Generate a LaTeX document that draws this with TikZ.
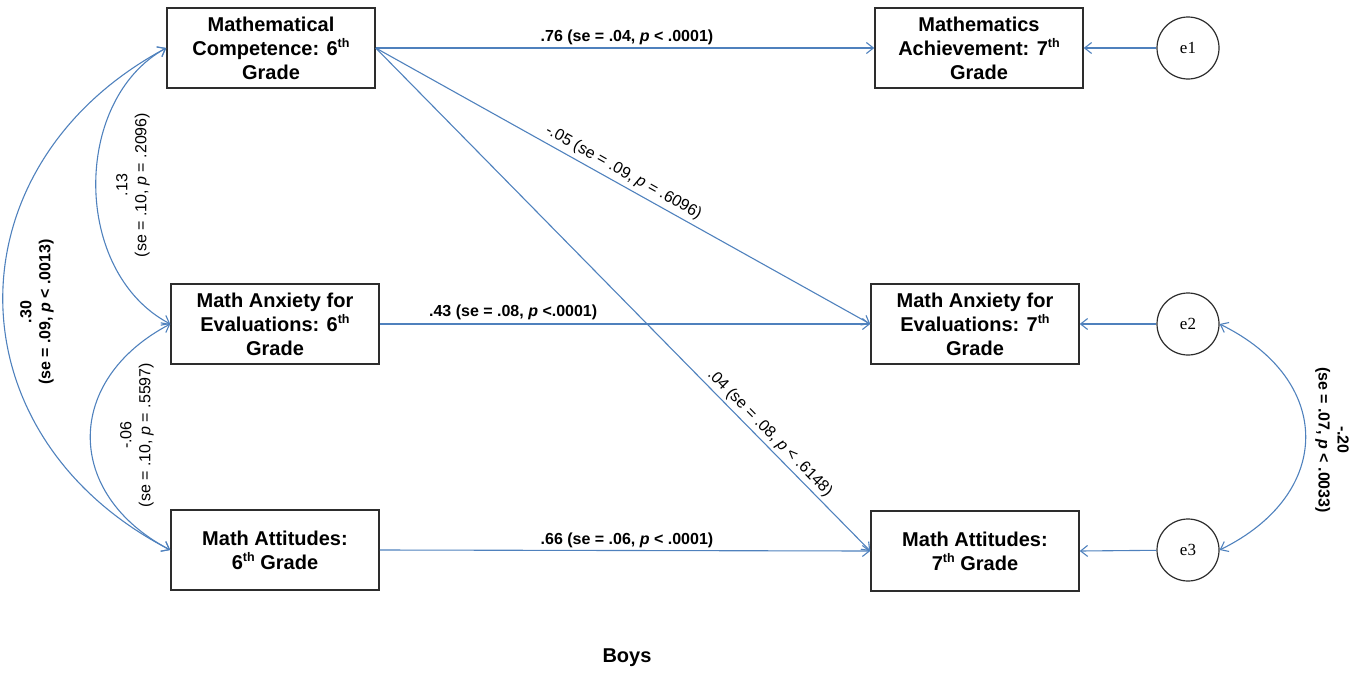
\documentclass[tikz,border=0pt]{standalone}
\usepackage{fontspec}
\setmainfont{Liberation Sans}
\newfontfamily\efont{Liberation Serif}
\usetikzlibrary{arrows.meta}
\definecolor{lnblue}{RGB}{79,129,189}
\definecolor{boxgray}{RGB}{45,45,45}
\newcommand\supth{\raisebox{0.75ex}{\fontsize{12.5}{12.5}\selectfont th}}
\begin{document}
\begin{tikzpicture}[x=1pt,y=-1pt,
  box/.style={draw=boxgray, line width=1.5pt, minimum width=208pt, minimum height=80pt, inner sep=0pt, align=center, font=\fontsize{20}{24}\selectfont\bfseries},
  errc/.style={draw=boxgray, circle, line width=1.2pt, minimum size=62pt, inner sep=0pt, font=\efont\fontsize{17}{20}\selectfont},
  conn/.style={draw=lnblue, line width=1.1pt, -{Straight Barb[length=7pt,width=11pt]}},
  corr/.style={draw=lnblue, line width=1.1pt, {Straight Barb[length=7pt,width=11pt]}-{Straight Barb[length=7pt,width=11pt]}},
  elbl/.style={inner sep=1pt, font=\fontsize{16}{19}\selectfont},
  belbl/.style={inner sep=1pt, font=\fontsize{16}{19}\selectfont\bfseries, align=center},
  rlbl/.style={inner sep=1pt, font=\fontsize{16}{19}\selectfont, align=center}]
\useasboundingbox (0,0) rectangle (1363,675);

\node[box] (mc6) at (271,48) {Mathematical\\Competence: 6\supth\\Grade};
\node[box] (ma7) at (979,48) {Mathematics\\Achievement: 7\supth\\Grade};
\node[box] (mae6) at (275,324) {Math Anxiety for\\Evaluations: 6\supth\\Grade};
\node[box] (mae7) at (975,324) {Math Anxiety for\\Evaluations: 7\supth\\Grade};
\node[box] (mat6) at (275,550) {Math Attitudes:\\6\supth{} Grade};
\node[box] (mat7) at (975,551) {Math Attitudes:\\7\supth{} Grade};

\node[errc] (e1) at (1188,48) {e1};
\node[errc] (e2) at (1188,324) {e2};
\node[errc] (e3) at (1188,550) {e3};

\draw[conn] (mc6.east) -- node[belbl, pos=0.504, above=1.5pt] {.76 (se = .04, \textit{p} < .0001)} (ma7.west);
\draw[conn] (mc6.east) -- node[elbl, sloped, pos=0.489, above=3pt] {-.05 (se = .09, \textit{p} = .6096)} (mae7.west);
\draw[conn] (mc6.east) -- node[elbl, sloped, pos=0.781, above=2pt] {.04 (se = .08, \textit{p} < .6148)} (mat7.west);
\draw[conn] (mae6.east) -- node[belbl, pos=0.272, above=2.5pt] {.43 (se = .08, \textit{p} <.0001)} (mae7.west);
\draw[conn] (mat6.east) -- node[belbl, pos=0.504, above=1.5pt] {.66 (se = .06, \textit{p} < .0001)} (mat7.west);

\draw[conn] (e1) -- (ma7.east);
\draw[conn] (e2) -- (mae7.east);
\draw[conn] (e3) -- (mat7.east);

\draw[corr] (mc6.west) .. controls (-52,165) and (-52,435) .. (mat6.west);
\draw[corr] (mc6.west) .. controls (72,100) and (72,272) .. (mae6.west);
\draw[corr] (mae6.west) .. controls (64,380) and (64,494) .. (mat6.west);
\draw[corr] (e2.east) .. controls (1334,380) and (1334,494) .. (e3.east);

\node[belbl, rotate=90] (l30) at (37,312) {.30\\(se = .09, \textit{p} < .0013)};
\node[rlbl, rotate=90] (l13) at (133,185) {.13\\(se = .10, \textit{p} = .2096)};
\node[rlbl, rotate=90] (l06) at (137,435) {-.06\\(se = .10, \textit{p} = .5597)};
\node[belbl, rotate=-90] (l20) at (1332,440) {-.20\\(se = .07, \textit{p} < .0033)};

\node[font=\fontsize{20}{24}\selectfont\bfseries] (boys) at (627,658) {Boys};
\end{tikzpicture}
\end{document}
